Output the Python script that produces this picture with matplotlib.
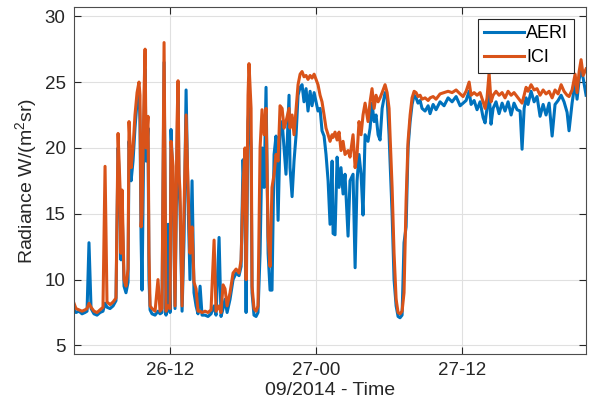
import matplotlib
matplotlib.use("Agg")
import matplotlib.pyplot as plt

plt.rcParams["font.family"] = ["Liberation Sans", "DejaVu Sans"]
plt.rcParams["mathtext.default"] = "regular"

# hours since 26/09/2014 00:00
hours = [
    4.11, 4.27, 4.52, 4.77, 5.01, 5.18, 5.34, 5.51, 5.75, 6.00,
    6.25, 6.49, 6.66, 6.82, 7.07, 7.32, 7.56, 7.73, 7.89, 7.97,
    8.06, 8.22, 8.38, 8.55, 8.63, 8.80, 8.96, 9.12, 9.29, 9.45,
    9.53, 9.62, 9.70, 9.86, 9.95, 10.03, 10.19, 10.27, 10.36, 10.52,
    10.77, 11.01, 11.18,
    11.34, 11.51, 11.67, 11.84, 12.00, 12.08, 12.25, 12.41, 12.58, 12.66,
    12.74, 12.82, 12.99, 13.15, 13.32, 13.48, 13.64, 13.81, 13.97, 14.14,
    14.30, 14.47, 14.63, 14.88, 15.12, 15.37, 15.62, 15.78, 16.03, 16.19,
    16.36, 16.52, 16.69, 16.93, 17.18, 17.43, 17.67, 17.84, 18.00, 18.16,
    18.25, 18.41, 18.49, 18.66, 18.74, 18.90, 19.07, 19.23,
    19.40, 19.56, 19.73, 19.89, 20.06, 20.22, 20.38, 20.55, 20.71, 20.88,
    21.04, 21.21, 21.37, 21.53, 21.78, 21.86, 22.03, 22.19, 22.36, 22.52,
    22.69, 22.85, 23.01, 23.18, 23.34, 23.51, 23.67, 23.84, 24.00, 24.16,
    24.33, 24.49, 24.66, 24.82, 24.99, 25.15,
    25.32, 25.40, 25.56, 25.73, 25.89, 26.05, 26.22, 26.38, 26.63, 26.79,
    27.04, 27.21, 27.37, 27.53, 27.70, 27.86, 28.03, 28.27, 28.44, 28.60,
    28.77, 28.93, 29.10, 29.26, 29.43, 29.67, 29.84, 30.00, 30.08, 30.25,
    30.41, 30.58, 30.74, 30.90, 31.07, 31.23, 31.40, 31.56, 31.73, 31.89,
    32.06, 32.22, 32.38, 32.55,
    32.71, 32.96, 33.21, 33.37, 33.62, 33.86, 34.19, 34.52, 34.85, 35.18,
    35.51, 35.84, 36.08, 36.33, 36.58, 36.74, 36.99, 37.23, 37.48, 37.73,
    37.89, 38.05, 38.22, 38.38, 38.55, 38.79, 39.04, 39.29, 39.53, 39.78,
    40.03, 40.27, 40.52, 40.77, 40.93, 41.10, 41.26, 41.42, 41.67, 41.92,
    42.16, 42.41, 42.66, 42.90, 43.15, 43.40, 43.64, 43.89, 44.14, 44.38,
    44.63, 44.79, 45.04, 45.29, 45.45, 45.62, 45.78, 45.95, 46.19,
]

aeri = [
    7.7, 7.5, 7.6, 7.4, 7.5, 7.6, 12.8, 7.8, 7.4, 7.3,
    7.5, 7.6, 8.2, 7.9, 7.8, 8.0, 8.4, 20.0, 16.0, 11.5,
    15.5, 9.5, 9.0, 9.8, 20.5, 17.5, 19.0, 21.5, 23.5, 24.5,
    22.0, 13.2, 9.2, 22.0, 26.0, 19.0, 21.5, 10.0, 7.7, 7.4,
    7.3, 7.6, 7.4,
    7.5, 26.5, 7.3, 14.2, 7.5, 21.4, 17.0, 7.8, 20.0, 24.5,
    17.0, 15.5, 7.6, 13.0, 24.4, 16.0, 10.0, 17.5, 9.0, 8.0,
    7.4, 9.5, 7.3, 7.3, 7.2, 7.4, 8.0, 7.3, 13.2, 7.2,
    7.8, 8.5, 7.5, 8.5, 10.0, 10.5, 10.3, 11.0, 19.1, 15.0,
    7.5, 22.0, 23.0, 20.0, 9.0, 7.3, 7.2, 7.5,
    12.0, 20.0, 17.0, 24.6, 12.0, 9.2, 9.2, 19.5, 20.9, 14.5,
    21.0, 22.0, 20.0, 18.0, 24.0, 18.5, 16.3, 19.0, 21.0, 24.0,
    24.6, 24.8, 23.5, 24.5, 22.8, 24.3, 23.2, 24.2, 23.5, 22.8,
    23.0, 21.3, 20.9, 19.5, 17.5, 14.2,
    19.0, 13.5, 13.4, 19.3, 17.0, 18.5, 16.5, 18.0, 13.3, 17.5,
    18.0, 10.9, 17.5, 19.5, 18.0, 14.9, 21.0, 20.5, 21.5, 23.4,
    22.0, 22.5, 21.0, 20.6, 23.0, 24.2, 23.8, 21.0, 19.0, 15.0,
    10.0, 8.0, 7.2, 7.1, 7.3, 12.8, 14.0, 20.0, 22.0, 23.3,
    24.0, 23.8, 23.4, 23.6,
    23.0, 22.8, 23.2, 22.6, 23.3, 22.9, 23.5, 23.2, 23.8, 23.5,
    23.9, 23.2, 23.4, 23.6, 24.3, 23.3, 23.6, 22.9, 23.5, 22.3,
    21.9, 23.0, 24.2, 21.8, 23.0, 23.5, 22.6, 23.4, 22.8, 23.5,
    22.5, 23.4, 22.9, 22.8, 19.9, 23.0, 23.8, 23.3, 24.3, 23.5,
    23.9, 22.4, 23.3, 22.5, 23.4, 20.9, 23.3, 23.6, 24.0, 23.5,
    22.7, 21.3, 23.4, 25.0, 23.7, 25.2, 26.0, 25.3, 24.0,
]

ici = [
    8.2, 7.8, 7.7, 7.6, 7.7, 7.8, 8.2, 7.9, 7.6, 7.5,
    7.7, 7.9, 18.6, 8.3, 8.1, 8.3, 8.6, 21.1, 17.0, 12.0,
    16.8, 10.0, 9.5, 10.8, 22.0, 18.5, 20.0, 22.5, 24.2, 25.0,
    24.0, 14.0, 15.0, 24.0, 27.5, 20.0, 22.4, 12.0, 8.0, 7.8,
    7.6, 10.0, 7.6,
    7.8, 28.0, 7.6, 8.0, 7.8, 20.5, 18.6, 8.0, 22.0, 25.1,
    18.0, 16.7, 8.0, 15.3, 22.5, 17.0, 12.0, 14.0, 9.8, 9.3,
    7.6, 7.6, 7.5, 7.6, 7.5, 7.7, 13.0, 7.6, 8.0, 7.5,
    9.6, 9.3, 8.0, 9.0, 10.5, 10.8, 10.5, 11.5, 17.0, 20.0,
    10.0, 24.0, 26.4, 23.0, 9.5, 7.8, 7.6, 8.0,
    20.0, 22.9, 21.0, 23.0, 13.3, 11.0, 17.0, 18.0, 19.5, 19.0,
    23.2, 23.0, 21.5, 22.0, 23.0, 21.5, 22.5, 21.0, 23.0, 24.8,
    25.6, 25.8, 25.4, 25.5, 25.2, 25.5, 25.3, 25.6, 25.2, 24.8,
    24.0, 23.5, 22.5, 21.5, 21.0, 20.5,
    21.0, 20.8, 21.2, 20.6, 21.2, 19.8, 20.5, 19.5, 19.8, 19.3,
    21.0, 18.5, 19.5, 22.0, 21.0, 22.5, 23.4, 22.0, 23.5, 24.5,
    23.0, 24.0, 23.5, 23.8, 24.2, 24.8, 24.2, 23.0, 21.0, 17.0,
    12.0, 8.5, 7.5, 7.4, 7.6, 9.0, 16.0, 20.5, 22.5, 23.8,
    24.3, 24.2, 23.9, 24.0,
    23.7, 23.8, 23.6, 23.8, 23.9, 23.7, 24.1, 24.2, 24.3, 24.2,
    24.4, 24.1, 23.9, 24.3, 25.0, 24.0, 24.2, 24.0, 24.2, 23.5,
    23.0, 23.8, 25.7, 23.5, 24.0, 24.3, 24.0, 24.2, 23.8, 24.3,
    24.0, 24.2, 23.9, 23.6, 23.4, 24.0, 24.6, 24.3, 24.8, 24.4,
    24.5, 24.0, 24.4, 24.1, 24.3, 23.8, 24.4, 24.1, 24.8, 24.3,
    24.0, 23.9, 24.4, 25.6, 24.2, 25.8, 26.7, 25.5, 26.0,
]

tick_hours = [12, 24, 36]
tick_labels = ["26-12", "27-00", "27-12"]
y_ticks = [5, 10, 15, 20, 25, 30]

fig = plt.figure(figsize=(5.95, 4.12), dpi=100)
ax = fig.add_axes([0.1244, 0.1408, 0.8606, 0.8422])

ax.plot(hours, aeri, color="#0072BD", lw=2.2, label="AERI")
ax.plot(hours, ici, color="#D95319", lw=2.2, label="ICI")

ax.set_xlim(hours[0], hours[-1])
ax.set_ylim(4.35, 30.7)
ax.set_xticks(tick_hours)
ax.set_xticklabels(tick_labels)
ax.set_yticks(y_ticks)

ax.grid(True, color="#e0e0e0", lw=0.8)
ax.set_axisbelow(True)
ax.tick_params(direction="in", top=True, right=True, length=5,
               labelsize=13.5, colors="#262626", pad=6)
for s in ax.spines.values():
    s.set_color("#4d4d4d")
    s.set_linewidth(0.8)

ax.set_xlabel("09/2014 - Time", fontsize=14, color="#262626", labelpad=2)
ax.set_ylabel("Radiance W/(m$^2$sr)", fontsize=14, color="#262626", labelpad=4)

leg = ax.legend(loc="upper right", fontsize=13, fancybox=False,
                edgecolor="#262626", framealpha=1, handlelength=2.2,
                handletextpad=0.1, borderaxespad=0.65, borderpad=0.35,
                labelspacing=0.4)
leg.get_frame().set_linewidth(0.8)

fig.savefig("out.png", dpi=100)
